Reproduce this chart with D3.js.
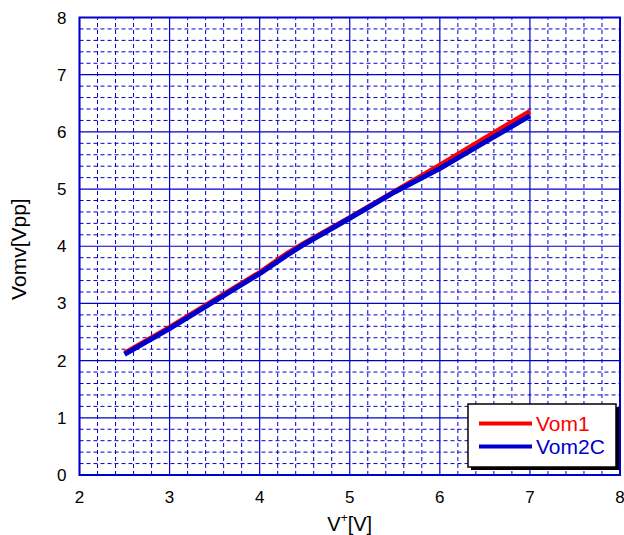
<!DOCTYPE html>
<html><head><meta charset="utf-8">
<script src="https://cdn.jsdelivr.net/npm/d3@7"></script>
<style>body{margin:0;background:#fff}</style>
</head><body>
<script>
const xValues = [2.5, 3, 3.5, 4, 4.3, 4.5, 5, 5.5, 6, 6.5, 7];
const vom1 = [2.13, 2.58, 3.06, 3.54, 3.87, 4.06, 4.50, 4.96, 5.42, 5.89, 6.36];
const vom2c = [2.11, 2.56, 3.04, 3.52, 3.84, 4.04, 4.49, 4.95, 5.36, 5.82, 6.28];
const seriesNames = ["Vom1", "Vom2C"];
const seriesColors = ["#ff0000", "#0000cc"];
const xTicks = [2, 3, 4, 5, 6, 7, 8];
const yTicks = [0, 1, 2, 3, 4, 5, 6, 7, 8];

const W = 624, H = 535;
const m = {left: 79.5, right: 4, top: 17.5, bottom: 60};
const svg = d3.select("body").append("svg").attr("width", W).attr("height", H);
const x = d3.scaleLinear().domain([2, 8]).range([m.left, W - m.right]);
const y = d3.scaleLinear().domain([0, 8]).range([H - m.bottom, m.top]);
const gridCol = "#0000cc";
const font = "Liberation Sans, Arial, sans-serif";

// minor grid
const minorX = d3.range(2, 8.001, 0.2).filter(v => Math.abs(v - Math.round(v)) > 0.01);
const minorY = d3.range(0, 8.001, 0.2).filter(v => Math.abs(v - Math.round(v)) > 0.01);
svg.append("g").selectAll("line").data(minorX).join("line")
  .attr("x1", d => x(d)).attr("x2", d => x(d)).attr("y1", y(0)).attr("y2", y(8))
  .attr("stroke", gridCol).attr("stroke-width", 1).attr("stroke-dasharray", "4,3");
svg.append("g").selectAll("line").data(minorY).join("line")
  .attr("y1", d => y(d)).attr("y2", d => y(d)).attr("x1", x(2)).attr("x2", x(8))
  .attr("stroke", gridCol).attr("stroke-width", 1).attr("stroke-dasharray", "4,3");
// major grid
svg.append("g").selectAll("line").data(xTicks).join("line")
  .attr("x1", d => x(d)).attr("x2", d => x(d)).attr("y1", y(0)).attr("y2", y(8))
  .attr("stroke", gridCol).attr("stroke-width", 1.2);
svg.append("g").selectAll("line").data(yTicks).join("line")
  .attr("y1", d => y(d)).attr("y2", d => y(d)).attr("x1", x(2)).attr("x2", x(8))
  .attr("stroke", gridCol).attr("stroke-width", 1.2);
svg.append("rect").attr("x", x(2)).attr("y", y(8)).attr("width", x(8) - x(2)).attr("height", y(0) - y(8))
  .attr("fill", "none").attr("stroke", gridCol).attr("stroke-width", 2);

// tick labels
svg.append("g").selectAll("text").data(xTicks).join("text")
  .attr("x", d => x(d)).attr("y", y(0) + 28).attr("text-anchor", "middle")
  .attr("font-family", font).attr("font-size", 17).text(d => d);
svg.append("g").selectAll("text").data(yTicks).join("text")
  .attr("x", x(2) - 13).attr("y", d => y(d) + 6).attr("text-anchor", "end")
  .attr("font-family", font).attr("font-size", 17).text(d => d);

// axis titles
const xt = svg.append("text").attr("x", x(5)).attr("y", 531).attr("text-anchor", "middle")
  .attr("font-family", font).attr("font-size", 20);
xt.append("tspan").text("V");
xt.append("tspan").attr("dy", -9).attr("font-size", 12).text("+");
xt.append("tspan").attr("dy", 9).text("[V]");
svg.append("text").attr("transform", `translate(26,${y(3.95)}) rotate(-90)`).attr("text-anchor", "middle")
  .attr("font-family", font).attr("font-size", 21).text("Vomv[Vpp]");

// lines
const line = d3.line().x(d => x(d[0])).y(d => y(d[1]));
[vom1, vom2c].forEach((s, i) => {
  svg.append("path").datum(xValues.map((v, j) => [v, s[j]]))
    .attr("d", line).attr("fill", "none").attr("stroke", seriesColors[i])
    .attr("stroke-width", 5).attr("stroke-linejoin", "round");
});

// legend
const lg = svg.append("g");
lg.append("rect").attr("x", 471).attr("y", 407).attr("width", 148).attr("height", 63).attr("fill", "#000");
lg.append("rect").attr("x", 468).attr("y", 404).attr("width", 148).attr("height", 63)
  .attr("fill", "#fff").attr("stroke", "#000").attr("stroke-width", 1.5);
seriesNames.forEach((n, i) => {
  const yy = 423.5 + i * 23;
  lg.append("line").attr("x1", 479).attr("x2", 532).attr("y1", yy).attr("y2", yy)
    .attr("stroke", seriesColors[i]).attr("stroke-width", 4);
  lg.append("text").attr("x", 536).attr("y", yy + 7.5).attr("fill", seriesColors[i])
    .attr("font-family", font).attr("font-size", 21).text(n);
});
</script>
</body></html>
